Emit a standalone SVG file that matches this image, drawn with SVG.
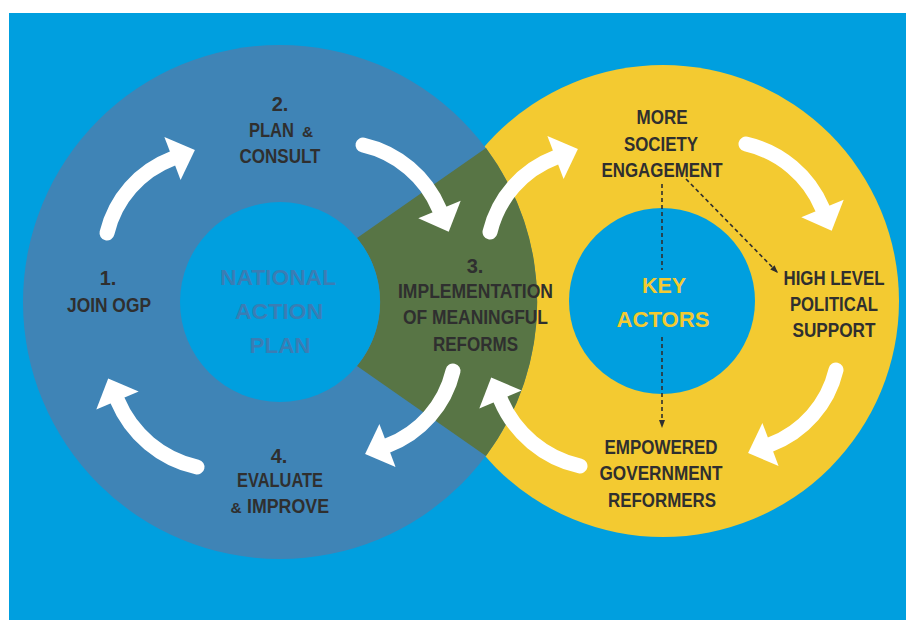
<svg xmlns="http://www.w3.org/2000/svg" xmlns:xlink="http://www.w3.org/1999/xlink" width="906" height="620" viewBox="0 0 906 620">
<defs>
<style>
.lbl{font-family:"Liberation Sans","Arial",sans-serif;font-weight:bold;font-size:20px;fill:#2f2f2f;text-anchor:middle}
.amp{font-family:"Liberation Sans","Arial",sans-serif;font-weight:bold;font-size:15.5px;fill:#2f2f2f;text-anchor:middle}
.ctr{font-family:"Liberation Sans","Arial",sans-serif;font-weight:bold;font-size:22px;text-anchor:middle}
.shaft{fill:none;stroke:#ffffff;stroke-width:15;stroke-linecap:round}
.head{fill:#ffffff}
.dash{fill:none;stroke:#2f2f2f;stroke-width:1.6;stroke-dasharray:4 3}
</style>
<marker id="dh" markerUnits="userSpaceOnUse" markerWidth="9" markerHeight="7" refX="8" refY="3" orient="auto">
<path d="M0,0 L8,3 L0,6 Z" fill="#2f2f2f"/>
</marker>
<g id="arw1">
<path class="shaft" d="M107,233 A106,106 0 0 1 172.5,158.5"/>
<polygon class="head" points="180.6,180 164.4,137 194.9,150"/>
</g>
<g id="arw2">
<path class="shaft" d="M363,145 A109,109 0 0 1 439.5,209.5"/>
<polygon class="head" points="418.3,218.3 460.7,200.7 448.7,231.7"/>
</g>
<g id="arw3">
<path class="shaft" d="M453,371 A106,106 0 0 1 387.5,445.5"/>
<polygon class="head" points="379.4,424 395.6,467 365.1,454"/>
</g>
<g id="arw4">
<path class="shaft" d="M197,467 A113,113 0 0 1 117.5,400.5"/>
<polygon class="head" points="138.7,391.6 96.3,409.4 108.2,378.4"/>
</g>
</defs>
<rect x="0" y="0" width="906" height="620" fill="#ffffff"/>
<rect x="9" y="13" width="897" height="607" fill="#009fdf"/>

<g id="ring-key-actors">
<circle cx="663" cy="301" r="236" fill="#f3ca31"/>
</g>
<g id="ring-national-action-plan">
<circle cx="280" cy="302" r="257" fill="#3f84b6"/>
</g>
<g id="overlap-implementation">
<path d="M357,238 L486,148 A257,257 0 0 1 486,456 L357,366 A100,100 0 0 0 357,238 Z" fill="#587545"/>
</g>
<g id="hub-national-action-plan">
<circle cx="280" cy="302" r="100" fill="#009fdf"/>
<text class="ctr" fill="#3a7db4" x="278" y="285" textLength="116" lengthAdjust="spacingAndGlyphs">NATIONAL</text>
<text class="ctr" fill="#3a7db4" x="279" y="319" textLength="88" lengthAdjust="spacingAndGlyphs">ACTION</text>
<text class="ctr" fill="#3a7db4" x="280" y="353" textLength="61" lengthAdjust="spacingAndGlyphs">PLAN</text>
</g>
<g id="hub-key-actors">
<circle cx="662" cy="301" r="93" fill="#009fdf"/>
<text class="ctr" fill="#f3ca31" x="664" y="293" textLength="44" lengthAdjust="spacingAndGlyphs">KEY</text>
<text class="ctr" fill="#f3ca31" x="663" y="327" textLength="93" lengthAdjust="spacingAndGlyphs">ACTORS</text>
</g>

<g id="connectors">
<use href="#arw1" xlink:href="#arw1"/>
<use href="#arw2" xlink:href="#arw2"/>
<use href="#arw3" xlink:href="#arw3"/>
<use href="#arw4" xlink:href="#arw4"/>
<g transform="translate(383,-1)">
<use href="#arw1" xlink:href="#arw1"/>
<use href="#arw2" xlink:href="#arw2"/>
<use href="#arw3" xlink:href="#arw3"/>
<use href="#arw4" xlink:href="#arw4"/>
</g>
<line class="dash" x1="662" y1="184" x2="662" y2="270"/>
<line class="dash" x1="662" y1="337" x2="662" y2="428" marker-end="url(#dh)"/>
<line class="dash" x1="686" y1="179" x2="778" y2="273" marker-end="url(#dh)"/>
</g>

<g id="node-join-ogp">
<text class="lbl" x="108" y="285">1.</text>
<text class="lbl" x="109" y="312" textLength="84" lengthAdjust="spacingAndGlyphs">JOIN OGP</text>
</g>
<g id="node-plan-consult">
<text class="lbl" x="280" y="111">2.</text>
<text class="lbl" x="271.5" y="137" font-size="19" textLength="45" lengthAdjust="spacingAndGlyphs">PLAN</text>
<text class="amp" x="307.5" y="137">&amp;</text>
<text class="lbl" x="280" y="163" textLength="81" lengthAdjust="spacingAndGlyphs">CONSULT</text>
</g>
<g id="node-implementation">
<text class="lbl" x="475" y="273">3.</text>
<text class="lbl" x="475.5" y="298" textLength="155" lengthAdjust="spacingAndGlyphs">IMPLEMENTATION</text>
<text class="lbl" x="475.5" y="324" textLength="145" lengthAdjust="spacingAndGlyphs">OF MEANINGFUL</text>
<text class="lbl" x="475.5" y="351" textLength="85" lengthAdjust="spacingAndGlyphs">REFORMS</text>
</g>
<g id="node-evaluate-improve">
<text class="lbl" x="279" y="463">4.</text>
<text class="lbl" x="280" y="487" textLength="86" lengthAdjust="spacingAndGlyphs">EVALUATE</text>
<text class="amp" x="236" y="513">&amp;</text>
<text class="lbl" x="288" y="513" textLength="82" lengthAdjust="spacingAndGlyphs">IMPROVE</text>
</g>
<g id="node-society-engagement">
<text class="lbl" x="662" y="124" textLength="51" lengthAdjust="spacingAndGlyphs">MORE</text>
<text class="lbl" x="661" y="151" textLength="74" lengthAdjust="spacingAndGlyphs">SOCIETY</text>
<text class="lbl" x="662" y="177" textLength="121" lengthAdjust="spacingAndGlyphs">ENGAGEMENT</text>
</g>
<g id="node-political-support">
<text class="lbl" x="834" y="285" textLength="101" lengthAdjust="spacingAndGlyphs">HIGH LEVEL</text>
<text class="lbl" x="834" y="311" textLength="88" lengthAdjust="spacingAndGlyphs">POLITICAL</text>
<text class="lbl" x="834" y="337" textLength="83" lengthAdjust="spacingAndGlyphs">SUPPORT</text>
</g>
<g id="node-government-reformers">
<text class="lbl" x="661" y="454" textLength="113" lengthAdjust="spacingAndGlyphs">EMPOWERED</text>
<text class="lbl" x="661" y="480" textLength="123" lengthAdjust="spacingAndGlyphs">GOVERNMENT</text>
<text class="lbl" x="662" y="507" textLength="108" lengthAdjust="spacingAndGlyphs">REFORMERS</text>
</g>
</svg>
